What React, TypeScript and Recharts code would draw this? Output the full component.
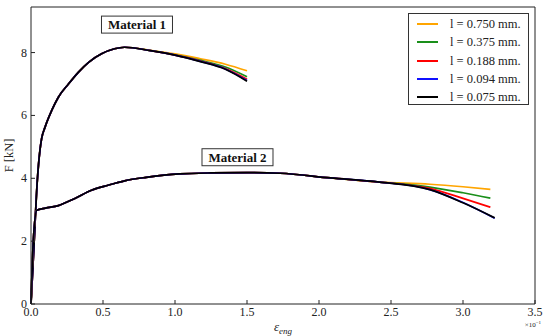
import { LineChart, Line, XAxis, YAxis, ReferenceDot } from 'recharts';

// axis ticks
const xTicks = [0, 0.5, 1, 1.5, 2, 2.5, 3, 3.5];
const yTicks = [0, 2, 4, 6, 8];

const sizeLabels = ['l = 0.750 mm.', 'l = 0.375 mm.', 'l = 0.188 mm.', 'l = 0.094 mm.', 'l = 0.075 mm.'];
const lineColors = ['#ffa500', '#1a8f1a', '#ff0000', '#1010ff', '#000000'];

// Material 1: shared loading branch, then one tail per size
const m1HeadX = [0, 0.02, 0.044, 0.062, 0.074, 0.097, 0.144, 0.19, 0.26, 0.33, 0.4, 0.49, 0.58, 0.65];
const m1HeadY = [0, 1.8, 3.94, 4.89, 5.27, 5.62, 6.16, 6.58, 7.0, 7.38, 7.69, 7.96, 8.12, 8.17];
const m1TailX = [0.83, 1.0, 1.17, 1.35, 1.5];
const m1Tail750 = [8.07, 7.96, 7.81, 7.63, 7.42];
const m1Tail375 = [8.06, 7.93, 7.76, 7.54, 7.23];
const m1Tail188 = [8.06, 7.92, 7.74, 7.49, 7.15];
const m1Tail094 = [8.06, 7.92, 7.73, 7.48, 7.11];
const m1Tail075 = [8.06, 7.92, 7.72, 7.47, 7.09];

// Material 2
const m2HeadX = [0, 0.016, 0.04, 0.1, 0.19, 0.305, 0.42, 0.535, 0.65, 0.8, 1.03, 1.25, 1.5, 1.73, 2.08, 2.42];
const m2HeadY = [0, 2.0, 2.98, 3.05, 3.13, 3.36, 3.62, 3.78, 3.92, 4.03, 4.14, 4.17, 4.18, 4.16, 4.01, 3.88];
const m2TailX = [2.77, 3.0, 3.19];
const m2TailXLong = [2.77, 3.0, 3.22];
const m2Tail750 = [3.81, 3.73, 3.65];
const m2Tail375 = [3.72, 3.54, 3.37];
const m2Tail188 = [3.68, 3.36, 3.08];
const m2Tail094 = [3.64, 3.23, 2.73];
const m2Tail075 = [3.64, 3.22, 2.74];

const toPts = (xs: number[], ys: number[]) => xs.map((x, i) => ({ x, y: ys[i] }));

const m1Series = [m1Tail750, m1Tail375, m1Tail188, m1Tail094, m1Tail075].map((tail) =>
  toPts([...m1HeadX, ...m1TailX], [...m1HeadY, ...tail])
);
const m2Series = [
  toPts([...m2HeadX, ...m2TailX], [...m2HeadY, ...m2Tail750]),
  toPts([...m2HeadX, ...m2TailX], [...m2HeadY, ...m2Tail375]),
  toPts([...m2HeadX, ...m2TailX], [...m2HeadY, ...m2Tail188]),
  toPts([...m2HeadX, ...m2TailXLong], [...m2HeadY, ...m2Tail094]),
  toPts([...m2HeadX, ...m2TailXLong], [...m2HeadY, ...m2Tail075]),
];

const FONT = '"Liberation Serif", "DejaVu Serif", serif';
const FRAME = '#222';

const BottomTick = (p: any) => (
  <g>
    <line x1={p.x} y1={p.y} x2={p.x} y2={p.y - 4} stroke={FRAME} />
    <text x={p.x} y={p.y + 12} textAnchor="middle" fontSize={12} fontFamily={FONT} fill="#222">
      {Number(p.payload.value).toFixed(1)}
    </text>
  </g>
);

const LeftTick = (p: any) => (
  <g>
    <line x1={p.x} y1={p.y} x2={p.x + 4} y2={p.y} stroke={FRAME} />
    <text x={p.x - 4} y={p.y + 4} textAnchor="end" fontSize={12} fontFamily={FONT} fill="#222">
      {p.payload.value}
    </text>
  </g>
);

const TopTick = (p: any) => <line x1={p.x} y1={p.y} x2={p.x} y2={p.y + 4} stroke={FRAME} />;
const RightTick = (p: any) => <line x1={p.x} y1={p.y} x2={p.x - 4} y2={p.y} stroke={FRAME} />;

const MaterialBox = ({ viewBox, text }: any) => {
  const w = 71;
  const h = 17;
  return (
    <g>
      <rect x={viewBox.x - w / 2} y={viewBox.y - h / 2} width={w} height={h} fill="#fff" stroke="#333" />
      <text
        x={viewBox.x}
        y={viewBox.y + 4.5}
        textAnchor="middle"
        fontSize={13}
        fontWeight="bold"
        fontFamily={FONT}
        fill="#111"
      >
        {text}
      </text>
    </g>
  );
};

const YTitle = ({ viewBox }: any) => {
  const cx = viewBox.x + 7;
  const cy = viewBox.y + viewBox.height / 2;
  return (
    <text x={cx} y={cy} transform={`rotate(-90, ${cx}, ${cy})`} textAnchor="middle" fontSize={12.5} fontFamily={FONT} fill="#222">
      F [kN]
    </text>
  );
};

const XTitle = ({ viewBox }: any) => {
  const cx = viewBox.x + viewBox.width / 2;
  const right = viewBox.x + viewBox.width;
  return (
    <g fontFamily={FONT} fill="#222">
      <text x={cx} y={viewBox.y + 27} textAnchor="middle" fontStyle="italic" fontSize={13}>
        ε<tspan fontSize={9} dy={3}>eng</tspan>
      </text>
      <text x={right + 6} y={viewBox.y + 23} textAnchor="end" fontSize={7}>
        ×10<tspan fontSize={5} dy={-3}>−1</tspan>
      </text>
    </g>
  );
};

export default function App() {
  return (
    <div style={{ position: 'absolute', left: 0, top: 0, width: 550, height: 336, background: '#fff' }}>
      <LineChart width={550} height={336} margin={{ top: 6, right: 14, left: 6, bottom: 0 }}>
        <XAxis
          dataKey="x"
          type="number"
          domain={[0, 3.5]}
          ticks={xTicks}
          interval={0}
          height={32}
          tickSize={0}
          tickMargin={0}
          tickLine={false}
          tick={BottomTick}
          axisLine={{ stroke: FRAME }}
          allowDuplicatedCategory={false}
          label={XTitle}
        />
        <XAxis
          xAxisId="top"
          orientation="top"
          dataKey="x"
          type="number"
          domain={[0, 3.5]}
          ticks={xTicks}
          interval={0}
          height={1}
          tickSize={0}
          tickMargin={0}
          tickLine={false}
          tick={TopTick}
          axisLine={{ stroke: FRAME }}
        />
        <YAxis
          type="number"
          domain={[0, 9.45]}
          ticks={yTicks}
          interval={0}
          width={25}
          tickSize={0}
          tickMargin={0}
          tickLine={false}
          tick={LeftTick}
          axisLine={{ stroke: FRAME }}
          label={YTitle}
        />
        <YAxis
          yAxisId="right"
          orientation="right"
          type="number"
          domain={[0, 9.45]}
          ticks={yTicks}
          interval={0}
          width={1}
          tickSize={0}
          tickMargin={0}
          tickLine={false}
          tick={RightTick}
          axisLine={{ stroke: FRAME }}
        />
        {m1Series.map((pts, i) => (
          <Line
            key={`m1-${i}`}
            data={pts}
            dataKey="y"
            type="monotone"
            stroke={lineColors[i]}
            strokeWidth={1.7}
            dot={false}
            activeDot={false}
            isAnimationActive={false}
          />
        ))}
        {m2Series.map((pts, i) => (
          <Line
            key={`m2-${i}`}
            data={pts}
            dataKey="y"
            type="monotone"
            stroke={lineColors[i]}
            strokeWidth={1.7}
            dot={false}
            activeDot={false}
            isAnimationActive={false}
          />
        ))}
        <ReferenceDot x={0.736} y={8.89} r={0} stroke="none" fill="none" label={(p: any) => <MaterialBox {...p} text="Material 1" />} />
        <ReferenceDot x={1.434} y={4.67} r={0} stroke="none" fill="none" label={(p: any) => <MaterialBox {...p} text="Material 2" />} />
      </LineChart>
      <div
        style={{
          position: 'absolute',
          left: 408,
          top: 13,
          width: 121,
          height: 92,
          boxSizing: 'border-box',
          border: '1px solid #333',
          background: '#fff',
          fontFamily: FONT,
          fontSize: 12.5,
          color: '#222',
        }}
      >
        {sizeLabels.map((label, i) => (
          <div key={label} style={{ position: 'absolute', left: 0, top: 1 + i * 18.35, height: 18, width: 119 }}>
            <div style={{ position: 'absolute', left: 8, top: 8, width: 21, height: 2, background: lineColors[i] }} />
            <div style={{ position: 'absolute', left: 41, top: 0, lineHeight: '18px', whiteSpace: 'nowrap' }}>{label}</div>
          </div>
        ))}
      </div>
    </div>
  );
}
